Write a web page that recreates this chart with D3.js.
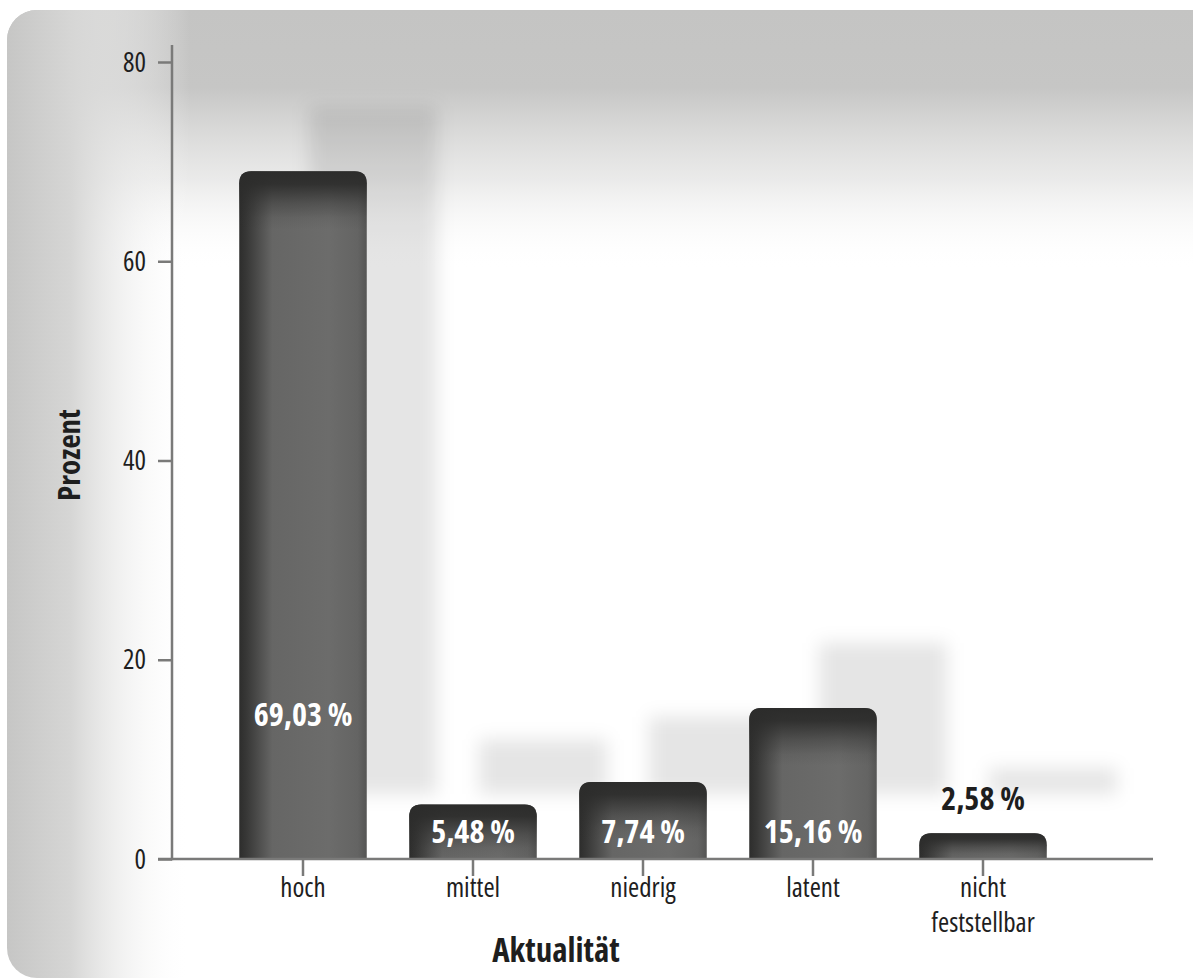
<!DOCTYPE html>
<html>
<head>
<meta charset="utf-8">
<script src="https://cdn.jsdelivr.net/npm/d3@7"></script>
<style>
  html, body { margin: 0; padding: 0; background: #ffffff; }
  svg { display: block; }
  text { font-family: "Open Sans", "DejaVu Sans Condensed", sans-serif; font-stretch: 75%; }
</style>
</head>
<body>
<svg id="chart" width="1193" height="978"></svg>
<script>
// Anteil der Fälle nach Aktualität (in Prozent)
const categories = ["hoch", "mittel", "niedrig", "latent", "nicht feststellbar"];
const values = [69.03, 5.48, 7.74, 15.16, 2.58];
const valueLabels = ["69,03 %", "5,48 %", "7,74 %", "15,16 %", "2,58 %"];
const yTicks = [0, 20, 40, 60, 80];
const yTitle = "Prozent";
const xTitle = "Aktualität";

const W = 1193, H = 978;
const svg = d3.select("#chart");
const defs = svg.append("defs");

// ---- panel background: rounded card with grey fading in from the left and top
const lg = defs.append("linearGradient").attr("id", "bgLeft")
  .attr("gradientUnits", "userSpaceOnUse").attr("x1", 7).attr("x2", 190).attr("y1", 0).attr("y2", 0);
lg.append("stop").attr("offset", 0).attr("stop-color", "#c6c6c5").attr("stop-opacity", 1);
lg.append("stop").attr("offset", 0.35).attr("stop-color", "#d6d6d5").attr("stop-opacity", 1);
lg.append("stop").attr("offset", 1).attr("stop-color", "#ffffff").attr("stop-opacity", 0);

const tg = defs.append("linearGradient").attr("id", "bgTop")
  .attr("gradientUnits", "userSpaceOnUse").attr("x1", 0).attr("x2", 0).attr("y1", 10).attr("y2", 270);
tg.append("stop").attr("offset", 0).attr("stop-color", "#c4c4c3").attr("stop-opacity", 1);
tg.append("stop").attr("offset", 0.3).attr("stop-color", "#c6c6c5").attr("stop-opacity", 1);
tg.append("stop").attr("offset", 0.65).attr("stop-color", "#dcdcdb").attr("stop-opacity", 0.6);
tg.append("stop").attr("offset", 1).attr("stop-color", "#ffffff").attr("stop-opacity", 0);

defs.append("clipPath").attr("id", "panelClip")
  .append("rect").attr("x", 7).attr("y", 10).attr("width", W + 40).attr("height", 968).attr("rx", 30);

const panel = svg.append("g").attr("clip-path", "url(#panelClip)");
panel.append("rect").attr("x", 7).attr("y", 10).attr("width", W).attr("height", 968).attr("fill", "#ffffff");
panel.append("rect").attr("x", 7).attr("y", 10).attr("width", W).attr("height", 968).attr("fill", "url(#bgTop)");
panel.append("rect").attr("x", 7).attr("y", 10).attr("width", W).attr("height", 968).attr("fill", "url(#bgLeft)");

// ---- scales
const y = d3.scaleLinear().domain([0, 80]).range([859, 62]);
const x = d3.scaleBand().domain(categories).range([218, 1068]).paddingInner(0.25).paddingOuter(0.125);
const bw = x.bandwidth();

// ---- soft cast shadows behind the bars (up and to the right)
defs.append("filter").attr("id", "soft").attr("x", "-50%").attr("y", "-50%").attr("width", "200%").attr("height", "200%")
  .append("feGaussianBlur").attr("stdDeviation", 9);

const shadowDx = 70, shadowDy = -65;
panel.append("g").attr("filter", "url(#soft)")
  .selectAll("rect").data(values).join("rect")
  .attr("x", (d, i) => x(categories[i]) + shadowDx)
  .attr("y", d => y(d) + shadowDy)
  .attr("width", bw)
  .attr("height", d => y(0) - y(d))
  .attr("fill", "#000").attr("fill-opacity", 0.1);

// ---- bar gradients
const hg = defs.append("linearGradient").attr("id", "barH").attr("x1", 0).attr("x2", 1).attr("y1", 0).attr("y2", 0);
[[0, "#2d2d2c"], [0.06, "#383837"], [0.26, "#666665"], [0.7, "#6c6c6b"], [0.93, "#646463"], [1, "#555554"]]
  .forEach(([o, c]) => hg.append("stop").attr("offset", o).attr("stop-color", c));

const vg = defs.append("linearGradient").attr("id", "barTop").attr("x1", 0).attr("x2", 0).attr("y1", 0).attr("y2", 1);
[[0, 1], [0.22, 0.92], [0.55, 0.4], [0.8, 0.1], [1, 0]]
  .forEach(([o, a]) => vg.append("stop").attr("offset", o).attr("stop-color", "#2c2c2b").attr("stop-opacity", a));

const r = 12;
function barPath(x0, y0, w, h) {
  const rr = Math.min(r, h);
  return `M${x0},${y0 + h}V${y0 + rr}Q${x0},${y0} ${x0 + rr},${y0}H${x0 + w - rr}Q${x0 + w},${y0} ${x0 + w},${y0 + rr}V${y0 + h}Z`;
}

const bars = svg.append("g").selectAll("g").data(values).join("g");
bars.append("path")
  .attr("d", (d, i) => barPath(x(categories[i]), y(d), bw, y(0) - y(d)))
  .attr("fill", "url(#barH)");
bars.append("path")
  .attr("d", (d, i) => barPath(x(categories[i]), y(d), bw, Math.min(58, y(0) - y(d))))
  .attr("fill", "url(#barTop)");

// ---- axes
const axisColor = "#7a7a79";
const textColor = "#1e1e1e";

const yAxis = svg.append("g").attr("transform", "translate(172,0)")
  .call(d3.axisLeft(y).tickValues(yTicks).tickSize(14).tickPadding(12).tickFormat(d3.format("d")));
yAxis.select(".domain").remove();
yAxis.selectAll(".tick line").attr("stroke", axisColor).attr("stroke-width", 2.5);
yAxis.selectAll(".tick text").attr("fill", textColor).style("font-size", "27px").attr("dy", "0.34em");

svg.append("line").attr("x1", 172).attr("x2", 172).attr("y1", 45).attr("y2", y(0) + 1.2)
  .attr("stroke", axisColor).attr("stroke-width", 2.5);

const xAxis = svg.append("g").attr("transform", `translate(0,${y(0)})`)
  .call(d3.axisBottom(x).tickSize(17).tickPadding(2));
xAxis.select(".domain").remove();
xAxis.selectAll(".tick line").attr("stroke", axisColor).attr("stroke-width", 2.5);
xAxis.selectAll(".tick text").attr("fill", textColor).style("font-size", "27px")
  .each(function (d) {
    const words = d.split(" ");
    const t = d3.select(this).text(null);
    words.forEach((w, k) => t.append("tspan").attr("x", 0).attr("dy", k === 0 ? "0.71em" : "1.3em").text(w));
  });

svg.append("line").attr("x1", 158).attr("x2", 1153).attr("y1", y(0)).attr("y2", y(0))
  .attr("stroke", axisColor).attr("stroke-width", 2.5);

// ---- value labels: inside the bar near its base, at mid-height for the tall bar,
// and above the bar when it is too short to hold the text
svg.append("g").selectAll("text").data(values).join("text")
  .attr("x", (d, i) => x(categories[i]) + bw / 2)
  .attr("y", (d, i) => {
    const h = y(0) - y(d);
    if (h < 40) return y(d) - 23;
    if (h > 300) return y(13.3);
    return y(0) - 16;
  })
  .attr("text-anchor", "middle")
  .attr("fill", d => (y(0) - y(d) < 40 ? textColor : "#ffffff"))
  .style("font-size", "32px").style("font-weight", "bold").style("font-stretch", "80%")
  .text((d, i) => valueLabels[i]);

// ---- axis titles
svg.append("text").attr("x", x("niedrig") + bw / 2 - 87).attr("y", 962)
  .attr("text-anchor", "middle").attr("fill", textColor)
  .style("font-size", "33px").style("font-weight", "bold").text(xTitle);

svg.append("text").attr("transform", "translate(80,455) rotate(-90)")
  .attr("text-anchor", "middle").attr("fill", textColor)
  .style("font-size", "31px").style("font-weight", "bold").text(yTitle);
</script>
</body>
</html>
